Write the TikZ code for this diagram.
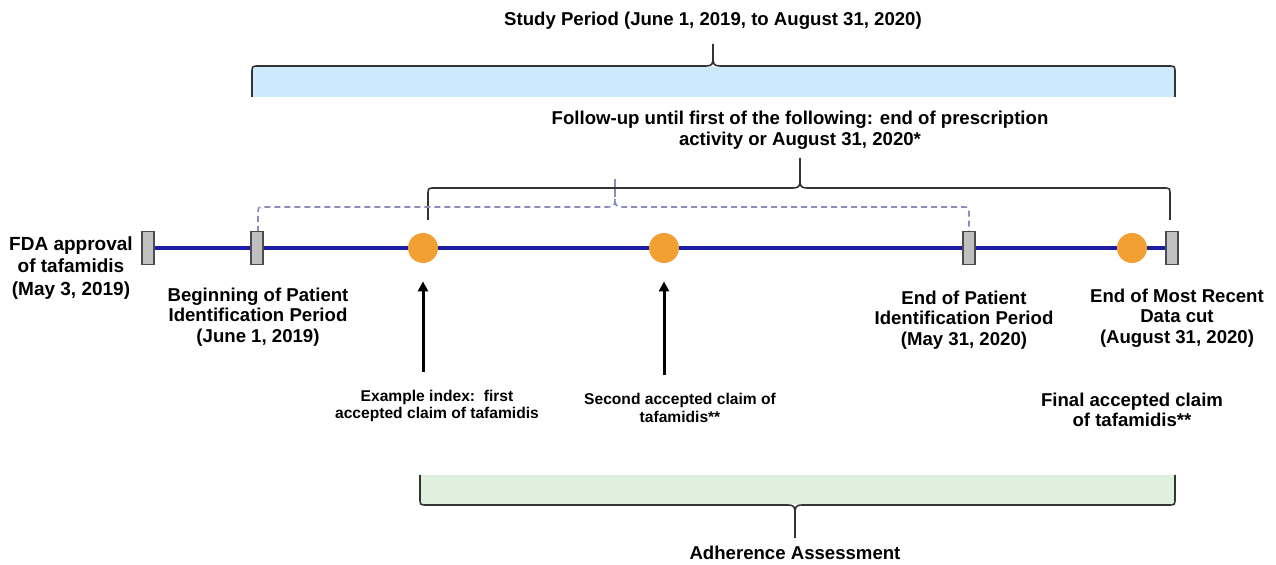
\documentclass[tikz,border=0pt]{standalone}
\usepackage{fontspec}
\setmainfont{Liberation Sans}
\usetikzlibrary{arrows.meta}

\definecolor{lineblue}{RGB}{28,28,165}
\definecolor{claimorange}{RGB}{242,160,50}
\definecolor{markgray}{RGB}{192,192,192}
\definecolor{studyblue}{RGB}{205,233,252}
\definecolor{assessgreen}{RGB}{223,240,222}
\definecolor{dashgray}{RGB}{140,140,190}

\newcommand{\lblfont}{\fontsize{9.3}{10.2}\selectfont\bfseries}
\newcommand{\smallfont}{\fontsize{7.8}{8.8}\selectfont\bfseries}

% brace: [style] x-left, x-right, x-tip, y-arm end, y-bar, y-tip
\newcommand{\tlbrace}[7][]{%
  \pgfmathsetmacro\bs{(#7>#6)?1:-1}%
  \draw[#1] (#2,#5) -- (#2,#6-\bs*7) .. controls (#2,#6) .. (#2+7,#6)
    -- (#4-7,#6) .. controls (#4-1,#6) and (#4,#6+\bs*2) .. (#4,#6+\bs*8)
    -- (#4,#7) -- (#4,#6+\bs*8) .. controls (#4,#6+\bs*2) and (#4+1,#6) .. (#4+7,#6)
    -- (#3-7,#6) .. controls (#3,#6) .. (#3,#6-\bs*7) -- (#3,#5);
}

\begin{document}
\begin{tikzpicture}[x=0.5pt, y=-0.5pt,
    marker/.style = {draw=black!70, fill=markgray, line width=0.6pt, minimum width=6pt, minimum height=16.5pt, inner sep=0pt},
    claim/.style = {circle, fill=claimorange, minimum size=15pt, inner sep=0pt},
    timeline/.style = {draw=lineblue, line width=1.7pt},
    lbl/.style = {font=\lblfont, align=center, inner sep=1pt},
    note/.style = {font=\smallfont, align=center, inner sep=1pt},
    claimarrow/.style = {-{Triangle[length=5pt, width=5pt]}, line width=1.5pt, shorten >=9pt},
    bracket/.style = {draw=black!80, line width=0.8pt},
    dashbracket/.style = {draw=dashgray, line width=0.8pt, dash pattern=on 3pt off 2pt}]

  \useasboundingbox (0,0) rectangle (1276,565);

  % shaded periods
  \fill[studyblue] (252,67) rectangle (1175,97);
  \fill[assessgreen] (420,475) rectangle (1175,504);

  % braces
  \tlbrace[bracket]{252}{1175}{713}{97}{66}{44}
  \coordinate (studytip) at (713,44);
  \tlbrace[bracket]{428}{1170}{800}{220}{188}{158}
  \coordinate (followtip) at (800,158);
  \tlbrace[dashbracket]{258}{969}{615}{232}{207}{178}
  \tlbrace[bracket]{420}{1175}{795}{475}{505}{538}
  \coordinate (assesstip) at (795,538);

  % timeline
  \node[marker] (FDA) at (148,248) {};
  \node[marker] (PIstart) at (257,248) {};
  \node[marker] (PIend) at (969,248) {};
  \node[marker] (cut) at (1172,248) {};
  \node[claim] (C_1) at (423,248) {};
  \node[claim] (C_2) at (664,248) {};
  \node[claim] (C_3) at (1132,248) {};

  \draw[timeline] (FDA) -- (PIstart) -- (C_1) -- (C_2) -- (PIend) -- (C_3) -- (cut);

  % texts
  \node[lbl, anchor=south] (study) at ([yshift=6pt]studytip) {Study Period (June 1, 2019, to August 31, 2020)};
  \node[lbl, anchor=south, font=\fontsize{9.3}{10.6}\selectfont\bfseries] (follow) at ([yshift=3pt]followtip)
    {Follow-up until first of the following: end of prescription\\activity or August 31, 2020*};
  \node[lbl, anchor=north] (assess) at ([yshift=-3pt]assesstip) {Adherence Assessment};

  \node[lbl, font=\fontsize{9.5}{11.4}\selectfont\bfseries] (FDAlbl) at (71,268) {FDA approval\\of tafamidis\\(May 3, 2019)};
  \node[lbl] (PIstartlbl) at (258,317) {Beginning of Patient\\Identification Period\\(June 1, 2019)};
  \node[lbl] (PIendlbl) at (964,320) {End of Patient\\Identification Period\\(May 31, 2020)};
  \node[lbl] (cutlbl) at (1177,318) {End of Most Recent\\Data cut\\(August 31, 2020)};

  \node[note] (C_1lbl) at (437,406) {Example index:\ \ first\\accepted claim of tafamidis};
  \node[note] (C_2lbl) at (680,408) {Second accepted claim of\\tafamidis**};
  \node[lbl] (C_3lbl) at (1132,410) {Final accepted claim\\of tafamidis**};

  \draw[claimarrow] ([yshift=8pt]C_1lbl.north -| C_1) -- (C_1);
  \draw[claimarrow] ([yshift=8pt]C_2lbl.north -| C_2) -- (C_2);

\end{tikzpicture}
\end{document}
